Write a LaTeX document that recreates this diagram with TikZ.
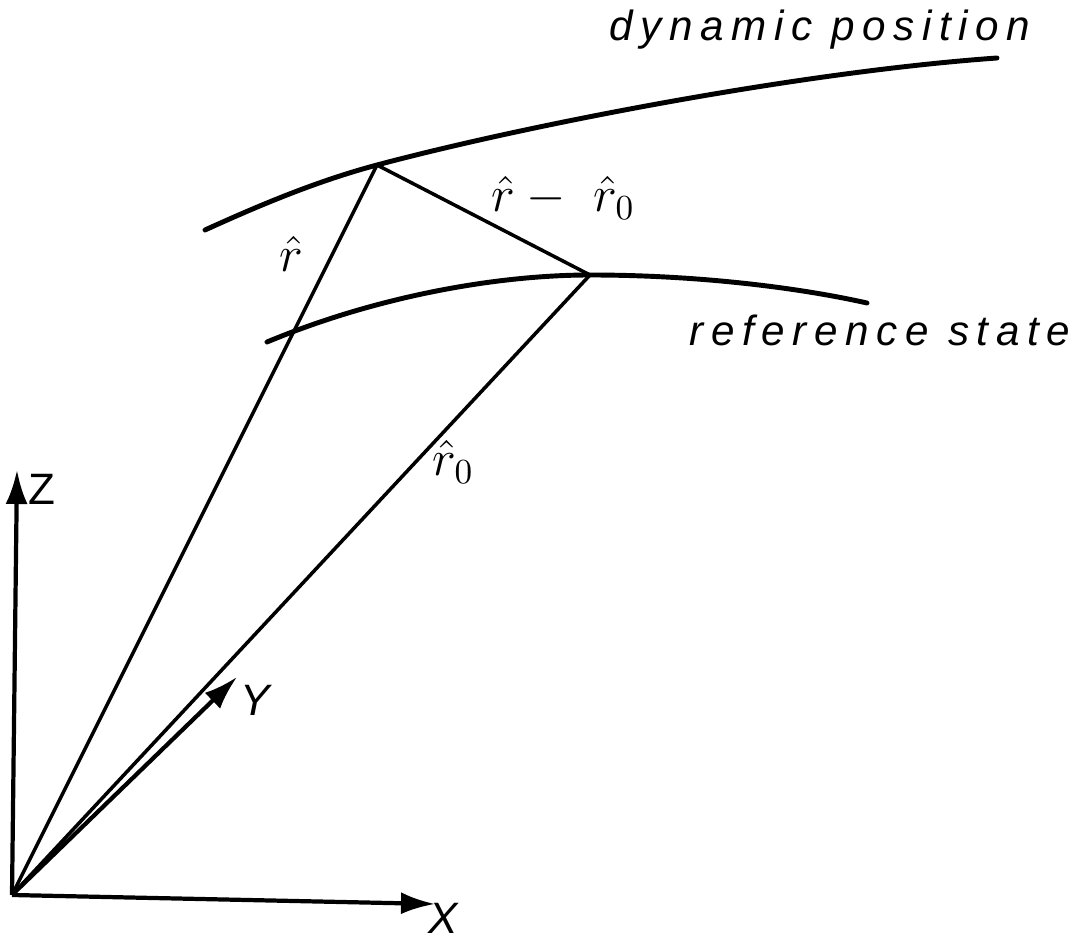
\documentclass[tikz,border=0pt]{standalone}
\usepackage{fontspec}
\usepackage{amsmath}
\usetikzlibrary{arrows.meta}
\newfontfamily\handfont[LetterSpace=18]{Liberation Sans}
\tikzset{
  curve/.style={line width=1.4pt, line cap=round},
  vect/.style={line width=1pt},
  axis/.style={line width=1.2pt, -{Latex[length=3.4mm,width=2.2mm]}},
  curvelab/.style={font=\handfont\itshape\fontsize{12}{14}\selectfont, inner sep=0pt},
  axislab/.style={font=\handfont\fontsize{12.5}{15}\selectfont, inner sep=0pt},
  veclab/.style={font=\Large, inner sep=0pt}}

\begin{document}
\begin{tikzpicture}[x=0.01cm, y=-0.01cm]
    \useasboundingbox (0,0) rectangle (1087,937);
    % origin, tips and the two end points of the vectors
    \coordinate (O)    at (12,895);
    \coordinate (Xend) at (435,904);
    \coordinate (Yend) at (237,677);
    \coordinate (Zend) at (17,470);
    \coordinate (P)    at (377,165);
    \coordinate (Q)    at (590,275);
    % curves
    \draw[curve] (205,230) .. controls (260,205) and (317,181) .. (P)
      .. controls (527,125) and (800,72) .. (997,58);
    \draw[curve] (267,342) .. controls (380,295) and (500,275) .. (Q)
      .. controls (700,275) and (800,288) .. (867,303);
    % vectors
    \foreach \a/\b in {O/P,O/Q,P/Q}
      \draw[vect] (\a) -- (\b);
    % axes
    \foreach \e in {Xend,Yend,Zend}
      \draw[axis] (O) -- (\e);
    % labels
    \node[veclab] (rlab)    at (291,254) {$\hat r$};
    \node[veclab] (rzlab)   at (453,462) {$\hat r_0$};
    \node[veclab] (difflab) at (563,198) {$\hat r-\ \hat r_0$};
    \node[curvelab] (dynlab) at (820,30)  {dynamic position};
    \node[curvelab] (reflab) at (880,330) {reference state};
    \node[axislab] (zlab) at (42,489)  {Z};
    \node[axislab] (ylab) at (255,700) {\itshape Y};
    \node[axislab] (xlab) at (443,918) {\itshape X};
\end{tikzpicture}
\end{document}
